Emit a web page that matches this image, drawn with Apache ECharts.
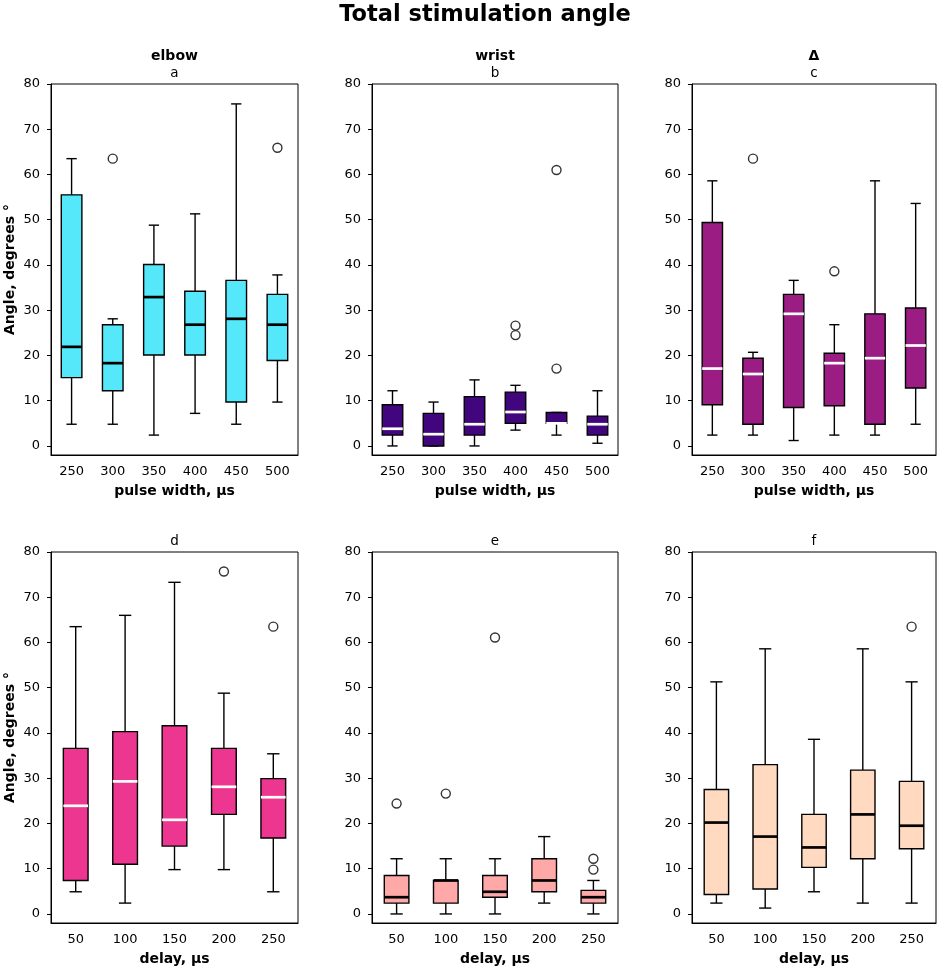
<!DOCTYPE html>
<html>
<head>
<meta charset="utf-8">
<title>Total stimulation angle</title>
<script src="https://cdn.jsdelivr.net/npm/echarts@6/dist/echarts.min.js"></script>
<style>
  html, body { margin: 0; padding: 0; background: #fff; }
  #chart { width: 944px; height: 969px; }
</style>
</head>
<body>
<div id="chart"></div>
<script>
// category labels
const pulseWidths = ["250", "300", "350", "400", "450", "500"];
const delays = ["50", "100", "150", "200", "250"];
const yTicks = [0, 10, 20, 30, 40, 50, 60, 70, 80];

// boxes: [lower whisker, Q1, median, Q3, upper whisker]
const elbowPulse = [
  [4.8, 15.1, 21.9, 55.5, 63.5],
  [4.8, 12.2, 18.3, 26.8, 28.1],
  [2.4, 20.1, 32.9, 40.1, 48.8],
  [7.2, 20.1, 26.8, 34.2, 51.3],
  [4.8, 9.7, 28.1, 36.6, 75.6],
  [9.7, 18.9, 26.8, 33.5, 37.8]
];
const wristPulse = [
  [0, 2.4, 3.8, 9.1, 12.2],
  [0, 0, 2.6, 7.2, 9.7],
  [0, 2.4, 4.8, 10.9, 14.6],
  [3.5, 5.0, 7.5, 11.9, 13.4],
  [2.4, 5.0, 5.0, 7.4, 7.4],
  [0.6, 2.4, 4.8, 6.6, 12.2]
];
const deltaPulse = [
  [2.4, 9.1, 17.1, 49.4, 58.6],
  [2.4, 4.8, 15.9, 19.4, 20.7],
  [1.2, 8.5, 29.2, 33.5, 36.6],
  [2.4, 8.9, 18.3, 20.5, 26.8],
  [2.4, 4.8, 19.4, 29.2, 58.6],
  [4.8, 12.8, 22.2, 30.5, 53.6]
];
const elbowDelay = [
  [4.9, 7.4, 23.9, 36.6, 63.5],
  [2.4, 11.0, 29.3, 40.3, 66.0],
  [9.8, 15.0, 20.8, 41.6, 73.3],
  [9.8, 22.0, 28.1, 36.6, 48.8],
  [4.9, 16.8, 25.8, 29.9, 35.4]
];
const wristDelay = [
  [0, 2.4, 3.7, 8.5, 12.2],
  [0, 2.4, 7.4, 7.4, 12.2],
  [0, 3.7, 4.9, 8.5, 12.2],
  [2.4, 4.9, 7.4, 12.2, 17.1],
  [0, 2.4, 3.7, 5.2, 7.4]
];
const deltaDelay = [
  [2.4, 4.3, 20.2, 27.5, 51.3],
  [1.3, 5.5, 17.1, 33.0, 58.6],
  [4.9, 10.3, 14.7, 22.0, 38.6],
  [2.4, 12.2, 22.0, 31.8, 58.6],
  [2.4, 14.4, 19.5, 29.3, 51.3]
];

// outliers: [category index, value]
const elbowPulseOut = [[1, 63.5], [5, 65.9]];
const wristPulseOut = [[3, 26.6], [3, 24.5], [4, 61.0], [4, 17.1]];
const deltaPulseOut = [[1, 63.5], [3, 38.6]];
const elbowDelayOut = [[3, 75.7], [4, 63.5]];
const wristDelayOut = [[0, 24.4], [1, 26.6], [2, 61.1], [4, 12.2], [4, 9.8]];
const deltaDelayOut = [[4, 63.5]];

const FONT = "DejaVu Sans";

const panels = [
  { boxes: elbowPulse, outliers: elbowPulseOut, cats: pulseWidths, fill: "#55e8fa", median: "#000", top: "elbow", letter: "a", xName: "pulse width, µs", yName: true },
  { boxes: wristPulse, outliers: wristPulseOut, cats: pulseWidths, fill: "#41067e", median: "#fff", top: "wrist", letter: "b", xName: "pulse width, µs", yName: false },
  { boxes: deltaPulse, outliers: deltaPulseOut, cats: pulseWidths, fill: "#9b1c83", median: "#fff", top: "Δ", letter: "c", xName: "pulse width, µs", yName: false },
  { boxes: elbowDelay, outliers: elbowDelayOut, cats: delays, fill: "#ec368f", median: "#fff", top: "", letter: "d", xName: "delay, µs", yName: true },
  { boxes: wristDelay, outliers: wristDelayOut, cats: delays, fill: "#ffa8a8", median: "#000", top: "", letter: "e", xName: "delay, µs", yName: false },
  { boxes: deltaDelay, outliers: deltaDelayOut, cats: delays, fill: "#ffd9c0", median: "#000", top: "", letter: "f", xName: "delay, µs", yName: false }
];

const colLeft = [51, 372, 692];
const colWidth = [247, 246, 244];
const rowTop = [84, 552];
const rowHeight = 371;

function makeRenderer(fill, medianColor) {
  return function (params, api) {
    const x = api.value(0);
    const band = api.size([1, 0])[0];
    const half = band * 0.25;
    const capHalf = band * 0.125;
    const lo = api.coord([x, api.value(1)]);
    const q1 = api.coord([x, api.value(2)]);
    const med = api.coord([x, api.value(3)]);
    const q3 = api.coord([x, api.value(4)]);
    const hi = api.coord([x, api.value(5)]);
    const cx = lo[0];
    const line = { stroke: "#000", lineWidth: 1.4 };
    return {
      type: "group",
      children: [
        { type: "line", shape: { x1: cx, y1: q1[1], x2: cx, y2: lo[1] }, style: line },
        { type: "line", shape: { x1: cx, y1: q3[1], x2: cx, y2: hi[1] }, style: line },
        { type: "line", shape: { x1: cx - capHalf, y1: lo[1], x2: cx + capHalf, y2: lo[1] }, style: line },
        { type: "line", shape: { x1: cx - capHalf, y1: hi[1], x2: cx + capHalf, y2: hi[1] }, style: line },
        {
          type: "rect",
          shape: { x: cx - half, y: q3[1], width: half * 2, height: q1[1] - q3[1] },
          style: { fill: fill, stroke: "#000", lineWidth: 1.4 }
        },
        {
          type: "line",
          shape: { x1: cx - half, y1: med[1], x2: cx + half, y2: med[1] },
          style: { stroke: medianColor, lineWidth: 2.7 }
        }
      ]
    };
  };
}

const grid = [];
const xAxis = [];
const yAxis = [];
const series = [];
const title = [
  {
    text: "Total stimulation angle",
    left: 485,
    top: 4,
    textAlign: "center",
    padding: 0,
    textStyle: { fontFamily: FONT, fontSize: 22.5, fontWeight: "bold", color: "#000" }
  }
];

panels.forEach((p, i) => {
  const col = i % 3;
  const row = Math.floor(i / 3);
  const left = colLeft[col];
  const top = rowTop[row];
  const centerX = left + colWidth[col] / 2;

  grid.push({
    left: left,
    top: top,
    width: colWidth[col],
    height: rowHeight,
    show: true,
    borderColor: "#000",
    borderWidth: 1,
    backgroundColor: "transparent"
  });

  xAxis.push({
    type: "category",
    gridIndex: i,
    data: p.cats,
    boundaryGap: true,
    name: p.xName,
    nameLocation: "middle",
    nameGap: 29,
    nameTextStyle: { fontFamily: FONT, fontSize: 14, fontWeight: "bold", color: "#000" },
    axisLine: { onZero: false, lineStyle: { color: "#000", width: 1 } },
    axisTick: { alignWithLabel: true, length: 4, lineStyle: { color: "#000" } },
    axisLabel: { fontFamily: FONT, fontSize: 13, color: "#000", margin: 10.5 },
    splitLine: { show: false }
  });

  yAxis.push({
    type: "value",
    gridIndex: i,
    min: -2,
    max: 80,
    name: p.yName ? "Angle, degrees °" : "",
    nameLocation: "middle",
    nameGap: 34,
    nameTextStyle: { fontFamily: FONT, fontSize: 14, fontWeight: "bold", color: "#000" },
    axisLine: { show: true, onZero: false, lineStyle: { color: "#000", width: 1 } },
    axisTick: { show: true, length: 4, lineStyle: { color: "#000" }, customValues: yTicks },
    axisLabel: { fontFamily: FONT, fontSize: 13, color: "#000", margin: 11, customValues: yTicks },
    splitLine: { show: false }
  });

  series.push({
    type: "custom",
    xAxisIndex: i,
    yAxisIndex: i,
    renderItem: makeRenderer(p.fill, p.median),
    encode: { x: 0, y: [1, 2, 3, 4, 5] },
    data: p.boxes.map((b, k) => [k].concat(b)),
    z: 2
  });

  series.push({
    type: "scatter",
    xAxisIndex: i,
    yAxisIndex: i,
    symbol: "circle",
    symbolSize: 9,
    itemStyle: { color: "#fff", borderColor: "#000", borderWidth: 1.4 },
    data: p.outliers,
    z: 3
  });

  if (p.top) {
    title.push({
      text: p.top,
      left: centerX,
      top: top - 35,
      textAlign: "center",
      padding: 0,
      textStyle: { fontFamily: FONT, fontSize: 14, fontWeight: "bold", color: "#000" }
    });
  }
  title.push({
    text: p.letter,
    left: centerX,
    top: top - 18,
    textAlign: "center",
    padding: 0,
    textStyle: { fontFamily: FONT, fontSize: 13.5, fontWeight: "normal", color: "#000" }
  });
});

const chart = echarts.init(document.getElementById("chart"));
chart.setOption({
  animation: false,
  backgroundColor: "#fff",
  title,
  grid,
  xAxis,
  yAxis,
  series
});

window.addEventListener("resize", () => chart.resize());
</script>
</body>
</html>
